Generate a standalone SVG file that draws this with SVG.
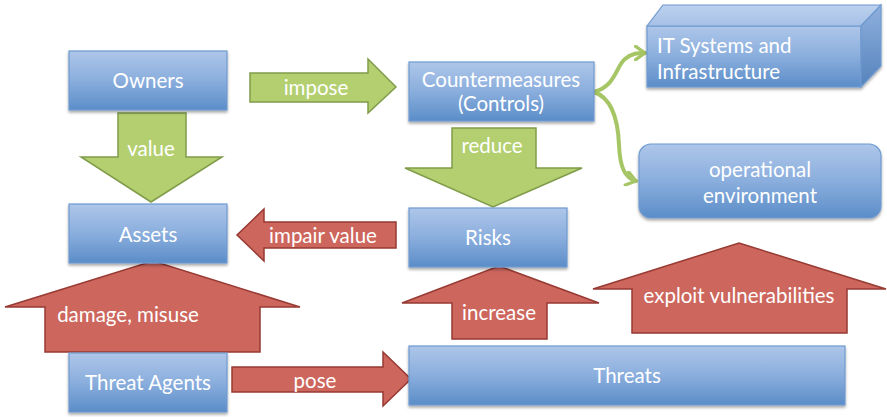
<svg xmlns="http://www.w3.org/2000/svg" width="887" height="417" viewBox="0 0 887 417">
  <defs>
    <linearGradient id="blueFill" x1="0" y1="0" x2="0" y2="1">
      <stop offset="0" stop-color="#aec6e9"/>
      <stop offset="0.5" stop-color="#8aaedd"/>
      <stop offset="1" stop-color="#5b8dc8"/>
    </linearGradient>
    <linearGradient id="blueTop" x1="0" y1="0" x2="0" y2="1">
      <stop offset="0" stop-color="#bcd1ee"/>
      <stop offset="1" stop-color="#a6c0e6"/>
    </linearGradient>
    <linearGradient id="blueSide" x1="0" y1="0" x2="0" y2="1">
      <stop offset="0" stop-color="#8fb0dc"/>
      <stop offset="1" stop-color="#5583bd"/>
    </linearGradient>
    <filter id="shadow" x="-10%" y="-10%" width="120%" height="130%">
      <feGaussianBlur in="SourceAlpha" stdDeviation="1.5"/>
      <feOffset dx="0" dy="2" result="b"/>
      <feComponentTransfer><feFuncA type="linear" slope="0.35"/></feComponentTransfer>
      <feMerge><feMergeNode/><feMergeNode in="SourceGraphic"/></feMerge>
    </filter>
    <marker id="chev" viewBox="0 0 12 12" refX="9" refY="6" markerWidth="4" markerHeight="4" orient="auto" markerUnits="strokeWidth">
      <path d="M2,1 L9,6 L2,11" fill="none" stroke="#a6c665" stroke-width="2.5" stroke-linecap="round" stroke-linejoin="round"/>
    </marker>
  </defs>
  <style>
    .box { fill: url(#blueFill); stroke: #6f9ad0; stroke-width: 1.2; filter: url(#shadow); }
    .lbl { font-family: Lato, "Open Sans", "Liberation Sans", sans-serif; font-size: 20.5px; fill: #ffffff; text-anchor: middle; }
    .green { fill: #b3cf70; stroke: #809c4a; stroke-width: 1.5; stroke-linejoin: miter; }
    .red { fill: #cd665d; stroke: #973a33; stroke-width: 1.5; stroke-linejoin: miter; }
    .curve { fill: none; stroke: #a6c665; stroke-width: 4; stroke-linecap: round; }
  </style>

  <!-- block arrows and curved connectors -->
  <g id="connectors">
    <!-- owners value assets -->
    <polygon class="green" points="118,113 186,113 186,157 222,157 151,202 81,157 118,157"/>
    <text class="lbl" x="151" y="156">value</text>
    <!-- owners impose countermeasures -->
    <polygon class="green" points="250,73 368,73 368,59 396,87 368,113 368,102 250,102"/>
    <text class="lbl" x="316" y="95">impose</text>
    <!-- countermeasures reduce risks -->
    <polygon class="green" points="452,128 536,128 536,168 582,168 493,207 405,168 452,168"/>
    <text class="lbl" x="492" y="153">reduce</text>
    <!-- risks impair value assets -->
    <polygon class="red" points="396,222 264,222 264,209 237,235 264,261 264,248 396,248"/>
    <text class="lbl" x="323" y="243">impair value</text>
    <!-- threat agents damage assets -->
    <polygon class="red" points="45,352 260,352 260,307 300,307 153,261 5,307 45,307"/>
    <text class="lbl" x="128" y="322">damage, misuse</text>
    <!-- threat agents pose threats -->
    <polygon class="red" points="232,367 383,367 383,352 411,379 383,406 383,392 232,392"/>
    <text class="lbl" x="315" y="388">pose</text>
    <!-- threats increase risks -->
    <polygon class="red" points="452,339 547,339 547,303 599,303 499,266 402,303 452,303"/>
    <text class="lbl" x="499" y="320">increase</text>
    <!-- threats exploit vulnerabilities -->
    <polygon class="red" points="632,333 847,333 847,289 886,289 739,243 593,289 632,289"/>
    <text class="lbl" x="739" y="303">exploit vulnerabilities</text>
    <!-- countermeasures to IT systems and operational environment -->
    <path class="curve" d="M594,92 C616,86 616,66 625,59 C632,53 638,53 645,53" marker-end="url(#chev)"/>
    <path class="curve" d="M594,92 C612,98 618,120 619,145 C620,168 625,178 636,181" marker-end="url(#chev)"/>
  </g>

  <g id="owners">
    <rect class="box" x="69" y="51" width="158" height="59"/>
    <text class="lbl" x="148" y="88">Owners</text>
  </g>

  <g id="assets">
    <rect class="box" x="69" y="204" width="158" height="59"/>
    <text class="lbl" x="148" y="242">Assets</text>
  </g>

  <g id="threat-agents">
    <rect class="box" x="69" y="353" width="158" height="59"/>
    <text class="lbl" x="148" y="390">Threat Agents</text>
  </g>

  <g id="countermeasures">
    <rect class="box" x="409" y="62" width="185" height="59"/>
    <text class="lbl" x="501" y="87">Countermeasures</text>
    <text class="lbl" x="501" y="111">(Controls)</text>
  </g>

  <g id="it-systems">
    <g filter="url(#shadow)">
      <rect x="647" y="26" width="214" height="61" fill="url(#blueFill)" stroke="#6f9ad0" stroke-width="1.2"/>
      <polygon points="647,26 663,5 881,5 861,26" fill="url(#blueTop)" stroke="#6f9ad0" stroke-width="1.2"/>
      <polygon points="861,26 881,5 881,66 861,87" fill="url(#blueSide)" stroke="#6f9ad0" stroke-width="1.2"/>
    </g>
    <text class="lbl" x="657" y="53" style="text-anchor:start">IT Systems and</text>
    <text class="lbl" x="657" y="79" style="text-anchor:start">Infrastructure</text>
  </g>

  <g id="operational-environment">
    <rect class="box" x="639" y="144" width="242" height="74" rx="12" ry="12"/>
    <text class="lbl" x="760" y="177">operational</text>
    <text class="lbl" x="760" y="203">environment</text>
  </g>

  <g id="risks">
    <rect class="box" x="409" y="208" width="158" height="59"/>
    <text class="lbl" x="488" y="245">Risks</text>
  </g>

  <g id="threats">
    <rect class="box" x="409" y="346" width="436" height="59"/>
    <text class="lbl" x="627" y="383">Threats</text>
  </g>
</svg>
